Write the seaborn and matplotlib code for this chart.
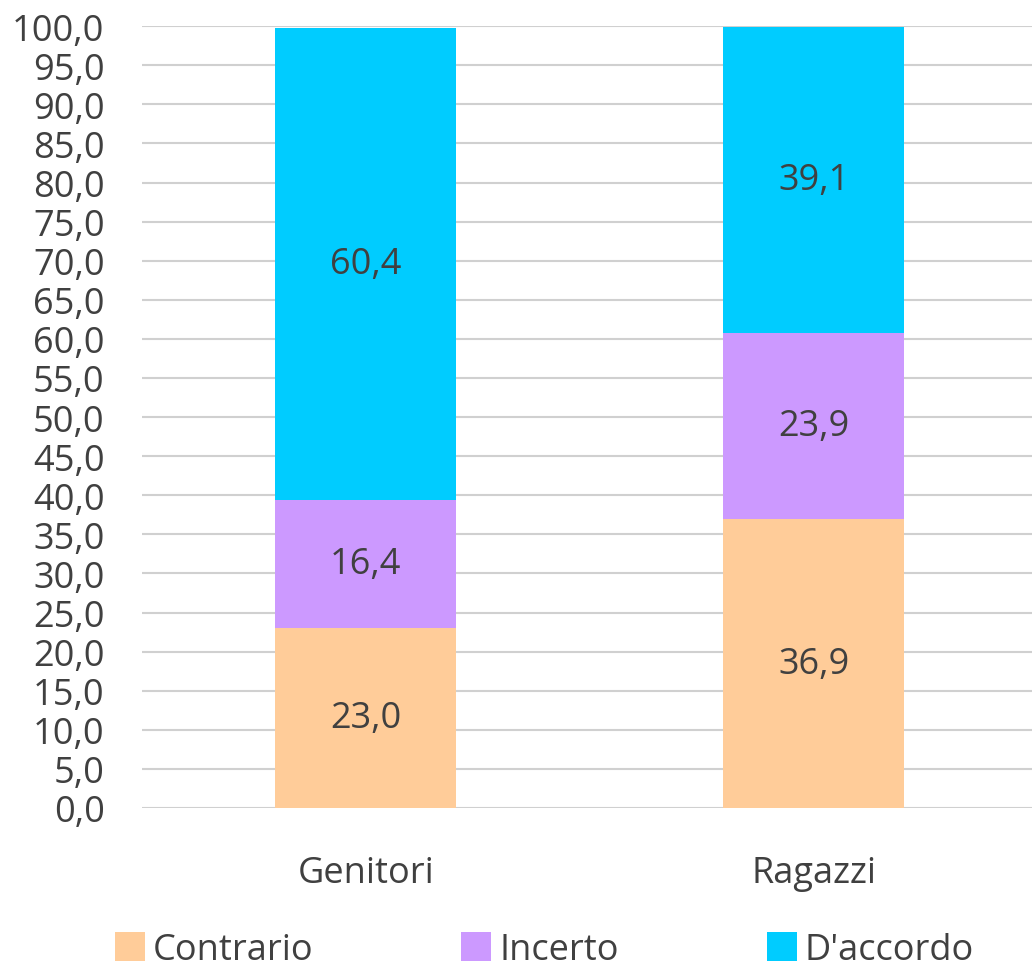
import pandas as pd
import numpy as np
import matplotlib
matplotlib.use('Agg')
import matplotlib.pyplot as plt
import seaborn as sns
from matplotlib.patches import Patch
from matplotlib.ticker import MultipleLocator, FuncFormatter

categories = ['Genitori', 'Ragazzi']
series = ['Contrario', 'Incerto', "D'accordo"]
contrario = [23.0, 36.9]
incerto = [16.4, 23.9]
accordo = [60.4, 39.1]
colors = ['#FFCC99', '#CC99FF', '#00CCFF']

sns.set_theme(style='white')
plt.rcParams['font.family'] = ['Open Sans', 'DejaVu Sans']
text_color = '#404040'
fs = 26

df = pd.DataFrame({'categoria': categories, 'Contrario': contrario,
                   'Incerto': incerto, "D'accordo": accordo})
cum = df[series].cumsum(axis=1)

fig = plt.figure(figsize=(10.32, 9.70), dpi=100)
ax = fig.add_axes([0.1376, 0.166, 0.868, 0.806])

# stacked bars: draw cumulative totals from top to bottom
for s, c in reversed(list(zip(series, colors))):
    sns.barplot(x=df['categoria'], y=cum[s], color=c, width=0.404,
                saturation=1, ax=ax, linewidth=0, zorder=2)

# data labels in the middle of each segment
for i in range(len(categories)):
    base = 0
    for s in series:
        v = df.loc[i, s]
        ax.text(i, base + v / 2, f'{v:.1f}'.replace('.', ','), ha='center', va='center',
                fontsize=fs, color=text_color, zorder=3)
        base += v

ax.set_ylim(0, 100)
ax.set_xlim(-0.5, 1.5)
ax.yaxis.set_major_locator(MultipleLocator(5))
ax.yaxis.set_major_formatter(FuncFormatter(lambda v, p: f'{v:.1f}'.replace('.', ',')))
ax.grid(axis='y', color='#D0D0D0', linewidth=1.5, zorder=0)
ax.set_axisbelow(True)
for sp in ax.spines.values():
    sp.set_visible(False)
ax.set_xlabel('')
ax.set_ylabel('')
ax.tick_params(axis='y', labelsize=fs, colors=text_color, length=0, pad=27)
ax.tick_params(axis='x', labelsize=fs, colors=text_color, length=0, pad=34)

handles = [Patch(facecolor=c, edgecolor='none', label=s) for s, c in zip(series, colors)]
fig.legend(handles=handles, loc='lower left', bbox_to_anchor=(0.097, -0.014), ncol=3,
           frameon=False, fontsize=fs, labelcolor=text_color, handlelength=0.83,
           handleheight=0.83, handletextpad=0.22, columnspacing=4.1, borderaxespad=0)

fig.savefig('out.png', dpi=100)
